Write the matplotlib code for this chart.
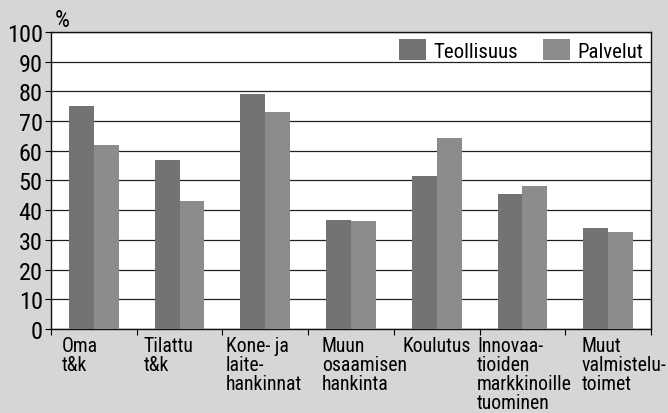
import matplotlib
matplotlib.use("Agg")
import matplotlib.pyplot as plt
import numpy as np

categories = ["Oma\nt&k", "Tilattu\nt&k", "Kone- ja\nlaite-\nhankinnat",
              "Muun\nosaamisen\nhankinta", "Koulutus",
              "Innovaa-\ntioiden\nmarkkinoille\ntuominen", "Muut\nvalmistelu-\ntoimet"]
teollisuus = [75, 57, 79, 36.7, 51.6, 45.6, 34]
palvelut = [62, 43, 73, 36.2, 64.2, 48.3, 32.6]
series_names = ["Teollisuus", "Palvelut"]
yticks = [0, 10, 20, 30, 40, 50, 60, 70, 80, 90, 100]

label_offsets = [-0.37, -0.42, -0.46, -0.34, -0.40, -0.53, -0.31]

plt.rcParams['font.family'] = ['Roboto Condensed', 'Roboto', 'DejaVu Sans']

fig = plt.figure(figsize=(6.68, 4.14), dpi=100)
fig.patch.set_facecolor('#d6d6d6')
ax = fig.add_axes([0.0763, 0.2029, 0.8983, 0.7174])
ax.set_facecolor('white')

x = np.arange(len(categories))
w = 0.29
c_t = '#737373'
c_p = '#8c8c8c'
ax.bar(x - w/2, teollisuus, w, color=c_t, label=series_names[0], zorder=3)
ax.bar(x + w/2, palvelut, w, color=c_p, label=series_names[1], zorder=3)

ax.set_xlim(-0.5, len(categories) - 0.5)
ax.set_ylim(0, 100)
ax.set_yticks(yticks)
ax.set_yticklabels([str(v) for v in yticks], fontsize=17.5)
ax.yaxis.grid(True, color='#222222', linewidth=0.9, zorder=0)
ax.set_axisbelow(True)

ax.set_xticks(np.arange(len(categories) + 1) - 0.5)
ax.set_xticklabels([])
ax.tick_params(axis='x', direction='out', length=4, width=0.8)
ax.tick_params(axis='y', direction='out', length=4, width=0.8, pad=2)

for s in ax.spines.values():
    s.set_color('#111111')
    s.set_linewidth(1.0)

for i, (lab, off) in enumerate(zip(categories, label_offsets)):
    ax.text(i + off, -2.5, lab, ha='left', va='top', fontsize=14.2,
            linespacing=0.98, transform=ax.transData, clip_on=False)

ax.text(0.006, 1.005, '%', transform=ax.transAxes, fontsize=17, ha='left', va='bottom')

leg = ax.legend(loc='upper right', ncol=2, frameon=False, fontsize=15,
                handlelength=1.25, handleheight=1.15, columnspacing=1.2,
                handletextpad=0.4, borderaxespad=0.0, borderpad=0.35)

fig.savefig('out.png', dpi=100, facecolor=fig.get_facecolor())
